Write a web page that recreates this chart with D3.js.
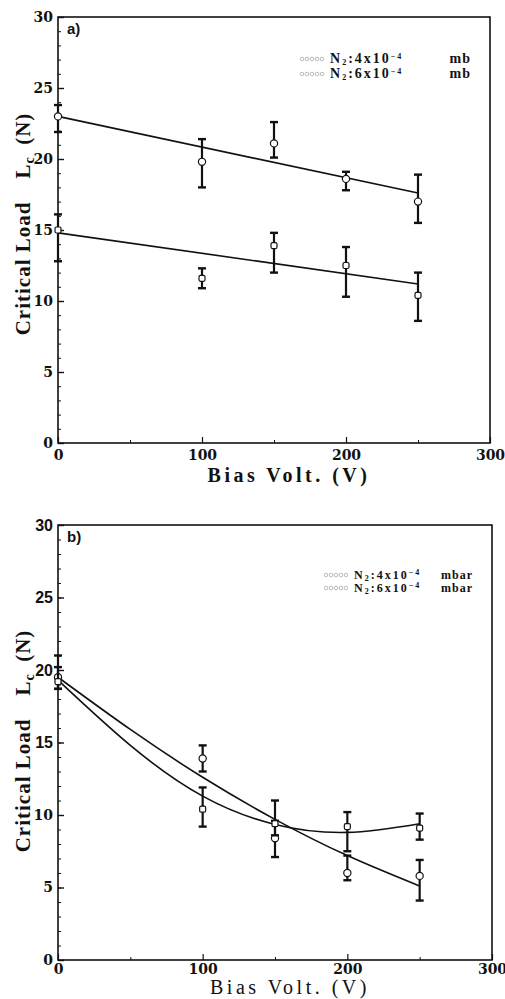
<!DOCTYPE html>
<html>
<head>
<meta charset="utf-8">
<script src="https://cdn.jsdelivr.net/npm/d3@7"></script>
<style>
  body { margin: 0; background: #fff; }
  svg { display: block; }
</style>
</head>
<body>
<script>
  // ---- panel a) : linear fits ----
  const voltA = [0, 100, 150, 200, 250];
  const aLoad1 = [23.0, 19.8, 21.1, 18.6, 17.0];
  const aLow1 = [21.9, 18.0, 20.1, 17.8, 15.5];
  const aHigh1 = [23.8, 21.4, 22.6, 19.1, 18.9];
  const aLoad2 = [15.0, 11.6, 13.9, 12.5, 10.4];
  const aLow2 = [12.8, 10.9, 12.0, 10.3, 8.6];
  const aHigh2 = [16.1, 12.3, 14.8, 13.8, 12.0];
  const aFitVolt = [0, 250];
  const aFit1 = [23.0, 17.6];
  const aFit2 = [14.8, 11.2];

  // ---- panel b) : curved fits ----
  const voltB = [0, 100, 150, 200, 250];
  const bLoad1 = [19.5, 13.9, 8.4, 6.0, 5.8];
  const bLow1 = [18.7, 13.0, 7.1, 5.5, 4.1];
  const bHigh1 = [21.0, 14.8, 9.6, 7.2, 6.9];
  const bLoad2 = [19.2, 10.4, 9.4, 9.2, 9.1];
  const bLow2 = [18.7, 9.2, 8.6, 7.5, 8.3];
  const bHigh2 = [20.2, 11.9, 11.0, 10.2, 10.1];
  const bFitVolt = [0, 50, 100, 150, 200, 250];
  const bFit1 = [19.5, 15.9, 12.6, 9.7, 7.2, 5.1];
  const bFit2 = [19.3, 14.8, 11.3, 9.35, 8.8, 9.4];

  const xTicks = [0, 100, 200, 300];
  const xMinor = [50, 150, 250];
  const yTicks = [0, 5, 10, 15, 20, 25, 30];
  const yMinor = d3.range(0, 31);

  const SERIF = "'DejaVu Serif', 'Liberation Serif', serif";
  const TIMES = "'Liberation Serif', 'DejaVu Serif', serif";
  const SANS = "'Liberation Sans', Arial, sans-serif";

  const svg = d3.select("body").append("svg")
    .attr("width", 505)
    .attr("height", 999)
    .style("background", "#fff");

  function zip(xs, ys) {
    return xs.map((v, i) => ({ x: v, y: ys[i] }));
  }

  function bars(xs, mid, lo, hi) {
    return xs.map((v, i) => ({ x: v, y: mid[i], lo: lo[i], hi: hi[i] }));
  }

  // =====================================================
  // ONE PANEL
  // =====================================================
  function drawPanel(p) {
    const x = d3.scaleLinear().domain([0, 300]).range([p.left, p.right]);
    const y = d3.scaleLinear().domain([0, 30]).range([p.bottom, p.top]);
    const g = svg.append("g");

    // frame
    g.append("rect")
      .attr("x", p.left).attr("y", p.top)
      .attr("width", p.right - p.left).attr("height", p.bottom - p.top)
      .attr("fill", "none").attr("stroke", "#111").attr("stroke-width", 1.6);

    // y axis
    const yAxis = g.append("g")
      .attr("transform", `translate(${p.left},0)`)
      .call(d3.axisLeft(y).tickValues(yTicks).tickSize(-6).tickSizeOuter(0).tickPadding(5));
    yAxis.select(".domain").remove();
    yAxis.selectAll("line").attr("stroke", "#111").attr("stroke-width", 1.4);
    yAxis.selectAll("text")
      .attr("fill", "#111")
      .style("font-family", (d) => (p.sansTop && d >= 15 ? SANS : SERIF))
      .style("font-weight", "bold")
      .style("font-size", (d) => (p.sansTop && d >= 15 ? "16px" : "14px"));

    const yMin = g.append("g")
      .attr("transform", `translate(${p.left},0)`)
      .call(d3.axisLeft(y).tickValues(yMinor).tickSize(-3).tickSizeOuter(0).tickFormat(""));
    yMin.select(".domain").remove();
    yMin.selectAll("line").attr("stroke", "#111").attr("stroke-width", 1);

    // x axis
    const xAxis = g.append("g")
      .attr("transform", `translate(0,${p.bottom})`)
      .call(d3.axisBottom(x).tickValues(xTicks).tickSize(-6).tickSizeOuter(0).tickPadding(p.xPad));
    xAxis.select(".domain").remove();
    xAxis.selectAll("line").attr("stroke", "#111").attr("stroke-width", 1.2);
    xAxis.selectAll("text")
      .attr("fill", "#111")
      .style("font-family", SERIF)
      .style("font-weight", "bold")
      .style("font-size", "14px");

    const xMin = g.append("g")
      .attr("transform", `translate(0,${p.bottom})`)
      .call(d3.axisBottom(x).tickValues(xMinor).tickSize(-3).tickSizeOuter(0).tickFormat(""));
    xMin.select(".domain").remove();
    xMin.selectAll("line").attr("stroke", "#111").attr("stroke-width", 1);

    // fit lines
    const line = d3.line()
      .x((d) => x(d.x))
      .y((d) => y(d.y))
      .curve(p.curve);
    p.fits.forEach((f) => {
      g.append("path")
        .datum(f)
        .attr("d", line)
        .attr("fill", "none")
        .attr("stroke", "#111")
        .attr("stroke-width", 1.6);
    });

    // error bars + markers
    p.series.forEach((s) => {
      const eb = g.append("g").selectAll("g").data(s.data).enter().append("g");
      eb.append("line")
        .attr("x1", (d) => x(d.x)).attr("x2", (d) => x(d.x))
        .attr("y1", (d) => y(d.lo)).attr("y2", (d) => y(d.hi))
        .attr("stroke", "#111").attr("stroke-width", 2.2);
      ["lo", "hi"].forEach((k) => {
        eb.append("line")
          .attr("x1", (d) => x(d.x) - 4).attr("x2", (d) => x(d.x) + 4)
          .attr("y1", (d) => y(d[k])).attr("y2", (d) => y(d[k]))
          .attr("stroke", "#111").attr("stroke-width", 2.4);
      });
      if (s.shape === "circle") {
        eb.append("circle")
          .attr("cx", (d) => x(d.x)).attr("cy", (d) => y(d.y))
          .attr("r", 3.6)
          .attr("fill", "#fff").attr("stroke", "#111").attr("stroke-width", 1.2);
      } else {
        eb.append("rect")
          .attr("x", (d) => x(d.x) - 3).attr("y", (d) => y(d.y) - 3)
          .attr("width", 6).attr("height", 6).attr("rx", 1.5)
          .attr("fill", "#fff").attr("stroke", "#111").attr("stroke-width", 1.2);
      }
    });

    // panel letter
    g.append("text")
      .attr("x", p.left + 9).attr("y", p.top + 17)
      .style("font-family", SANS).style("font-weight", "bold").style("font-size", "15px")
      .attr("fill", "#111")
      .text(p.letter);

    // legend
    p.legend.forEach((txt, i) => {
      const by = p.legY + i * p.legStep;
      g.append("g").selectAll("circle").data(d3.range(5)).enter().append("circle")
        .attr("cx", (k) => p.legX - 28 + k * 5).attr("cy", by - 4)
        .attr("r", 1.8)
        .attr("fill", "none").attr("stroke", "#aaa").attr("stroke-width", 0.8);
      const t = g.append("text")
        .attr("x", p.legX).attr("y", by)
        .attr("font-family", TIMES).attr("font-weight", "bold").attr("font-size", p.legFont)
        .attr("letter-spacing", 2)
        .attr("fill", "#111");
      t.append("tspan").text("N");
      t.append("tspan").attr("dy", 2).attr("font-size", 8).text("2");
      t.append("tspan").attr("dy", -2).text(":" + txt + "x10");
      t.append("tspan").attr("dy", -4).attr("font-size", 8).text("−4");
      g.append("text")
        .attr("x", p.unitX).attr("y", by)
        .attr("text-anchor", "end")
        .attr("font-family", TIMES).attr("font-weight", "bold").attr("font-size", p.legFont)
        .attr("letter-spacing", 1)
        .attr("fill", "#111")
        .text(p.unit);
    });

    // y label
    const yl = g.append("text")
      .attr("transform", `translate(30,${p.yLabelMid}) rotate(-90)`)
      .attr("text-anchor", "middle")
      .style("font-family", TIMES).style("font-weight", "bold").style("font-size", "21px")
      .style("letter-spacing", "1px")
      .attr("fill", "#111");
    yl.append("tspan").text("Critical Load\u2002\u2002L");
    yl.append("tspan").attr("dy", 4).style("font-size", "14px").text("c");
    yl.append("tspan").attr("dy", -4).text("\u2002(N)");

    // x label
    g.append("text")
      .attr("x", (p.left + p.right) / 2 + 15).attr("y", p.xLabelY)
      .attr("text-anchor", "middle")
      .style("font-family", TIMES).style("font-weight", p.xLabelWeight).style("font-size", "20px")
      .style("letter-spacing", "3.5px")
      .attr("fill", "#111")
      .text("Bias Volt. (V)");
  }

  drawPanel({
    left: 58, right: 490, top: 17, bottom: 443,
    xPad: 7, sansTop: false, letter: "a)",
    curve: d3.curveLinear,
    fits: [zip(aFitVolt, aFit1), zip(aFitVolt, aFit2)],
    series: [
      { shape: "circle", data: bars(voltA, aLoad1, aLow1, aHigh1) },
      { shape: "square", data: bars(voltA, aLoad2, aLow2, aHigh2) },
    ],
    legend: ["4", "6"], legX: 330, legY: 63, legStep: 15, legFont: 14,
    unitX: 471, unit: "mb",
    yLabelMid: 224, xLabelY: 482, xLabelWeight: "bold",
  });

  drawPanel({
    left: 58, right: 492, top: 525, bottom: 960,
    xPad: 4, sansTop: true, letter: "b)",
    curve: d3.curveNatural,
    fits: [zip(bFitVolt, bFit1), zip(bFitVolt, bFit2)],
    series: [
      { shape: "circle", data: bars(voltB, bLoad1, bLow1, bHigh1) },
      { shape: "square", data: bars(voltB, bLoad2, bLow2, bHigh2) },
    ],
    legend: ["4", "6"], legX: 354, legY: 579, legStep: 13, legFont: 12,
    unitX: 473, unit: "mbar",
    yLabelMid: 741, xLabelY: 994, xLabelWeight: "normal",
  });
</script>
</body>
</html>
